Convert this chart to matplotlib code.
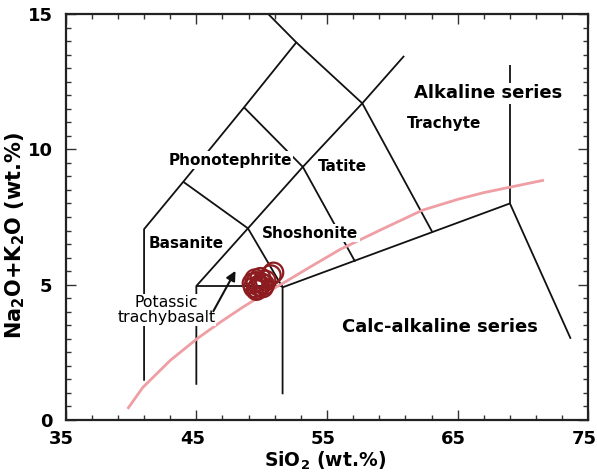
import matplotlib
matplotlib.use("Agg")
import matplotlib.pyplot as plt
import matplotlib.transforms as mtransforms
from matplotlib.ticker import FixedLocator, MultipleLocator

plt.rcParams['font.family'] = ['DejaVu Sans']
plt.rcParams['mathtext.fontset'] = 'custom'
plt.rcParams['mathtext.rm'] = 'DejaVu Sans:bold'
plt.rcParams['mathtext.default'] = 'rm'

# Classification boundary polylines (SiO2, Na2O+K2O)
boundaries = [
    [(41.0, 1.45), (41.0, 7.05), (44.0, 8.8), (48.65, 11.55), (52.65, 13.95), (50.5, 15.0)],
    [(52.65, 13.95), (57.7, 11.7), (63.05, 6.95)],
    [(60.9, 13.45), (57.7, 11.7), (53.15, 9.35), (48.95, 7.08), (45.0, 4.95), (45.0, 1.3)],
    [(48.65, 11.55), (53.15, 9.35)],
    [(44.0, 8.8), (48.95, 7.08)],
    [(53.15, 9.35), (57.15, 5.85)],
    [(48.95, 7.08), (51.6, 4.9)],
    [(45.0, 4.95), (51.6, 4.95)],
    [(51.6, 0.95), (51.6, 4.9), (69.0, 8.0), (73.65, 3.0)],
    [(69.0, 8.0), (69.0, 13.1)],
]

# Alkaline / sub-alkaline dividing curve
curve_sio2 = [39.8, 40.9, 43.0, 45.05, 46.8, 48.5, 50.0, 51.8, 53.7, 56.0, 59.0, 62.3, 65.0, 67.0, 69.0, 71.5]
curve_alk = [0.45, 1.2, 2.2, 3.0, 3.6, 4.15, 4.6, 5.1, 5.65, 6.3, 7.0, 7.75, 8.15, 8.4, 8.6, 8.85]

# Samples
sample_sio2 = [49.4, 49.6, 49.8, 50.0, 49.5, 49.7, 50.1, 49.9, 50.7, 50.2, 49.3, 50.9, 49.6, 50.3]
sample_alk = [4.9, 5.1, 4.95, 5.05, 5.2, 4.85, 4.9, 5.25, 5.35, 5.0, 5.05, 5.45, 4.8, 5.15]

x_ticks = [35, 45, 55, 65, 75]
y_ticks = [0, 5, 10, 15]

labels = [
    ("Phonotephrite", 47.6, 9.6, 11, 'bold'),
    ("Tatite", 56.2, 9.37, 11, 'bold'),
    ("Basanite", 44.2, 6.53, 11, 'bold'),
    ("Shoshonite", 53.7, 6.9, 11, 'bold'),
    ("Trachyte", 63.96, 10.96, 11, 'bold'),
    ("Alkaline series", 67.3, 12.07, 13, 'bold'),
    ("Calc-alkaline series", 63.65, 3.43, 13, 'bold'),
]

fig = plt.figure(figsize=(5.97, 4.74), dpi=100)
ax = fig.add_axes([0.110, 0.114, 0.8755, 0.8565])

for line in boundaries:
    xs = [p[0] for p in line]
    ys = [p[1] for p in line]
    ax.plot(xs, ys, color='#111111', lw=1.3, zorder=2, solid_capstyle='butt')

ax.plot(curve_sio2, curve_alk, color='#ef9ea3', lw=2.0, zorder=3)

ax.scatter(sample_sio2, sample_alk, s=200, facecolors='none', edgecolors='#8c1c1f',
           linewidths=1.6, zorder=5)

for txt, x, y, fs, fw in labels:
    ax.text(x, y, txt, ha='center', va='center', fontsize=fs, fontweight=fw, zorder=4,
            bbox=dict(facecolor='white', edgecolor='none', pad=1.0))

ax.text(42.7, 4.05, "Potassic\ntrachybasalt", ha='center', va='center', fontsize=11.3,
        linespacing=1.0, zorder=4, bbox=dict(facecolor='white', edgecolor='none', pad=0.8))

ax.annotate('', xy=(48.1, 5.6), xytext=(46.2, 3.93),
            arrowprops=dict(arrowstyle='-|>', color='#111111', lw=1.5, mutation_scale=14),
            zorder=4)

ax.set_xlim(35, 75)
ax.set_ylim(0, 15)
ax.xaxis.set_major_locator(FixedLocator(x_ticks))
ax.xaxis.set_minor_locator(MultipleLocator(2, offset=1))
ax.yaxis.set_major_locator(FixedLocator(y_ticks))
ax.yaxis.set_minor_locator(MultipleLocator(0.5))
ax.tick_params(which='both', direction='in', top=True, right=True, width=1.0, color='#333333')
ax.tick_params(which='major', length=7, labelsize=13)
ax.tick_params(which='minor', length=3.5)
ax.tick_params(axis='x', which='major', pad=7)
ax.tick_params(axis='y', which='major', pad=9.5)
shift = mtransforms.ScaledTranslation(-4 / 100, 0, fig.dpi_scale_trans)
for lab in ax.get_xticklabels():
    lab.set_fontweight('bold')
    lab.set_transform(lab.get_transform() + shift)
for lab in ax.get_yticklabels():
    lab.set_fontweight('bold')
for sp in ax.spines.values():
    sp.set_linewidth(1.6)
    sp.set_color('#222222')

ax.set_xlabel('SiO$_2$ (wt.%)', fontsize=13.5, fontweight='bold')
ax.xaxis.set_label_coords(0.497, -0.074)
ax.set_ylabel('Na$_2$O+K$_2$O (wt.%)', fontsize=15, fontweight='bold')
ax.yaxis.set_label_coords(-0.074, 0.456)

fig.savefig('out.png', dpi=100)
